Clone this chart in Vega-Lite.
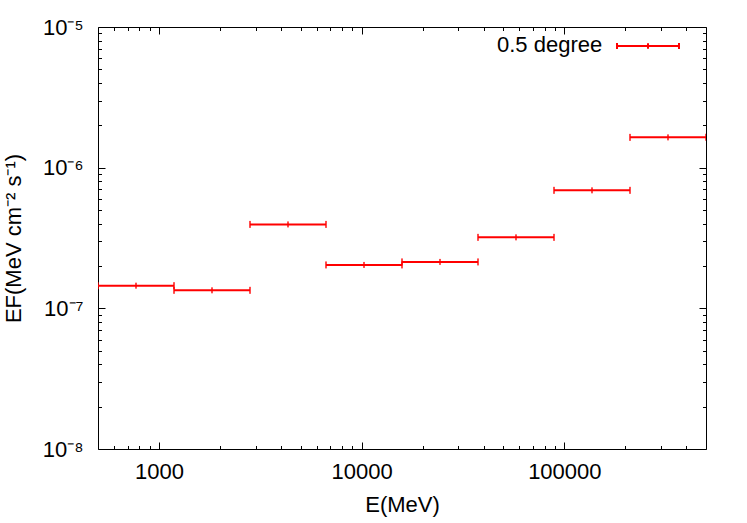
{
  "$schema": "https://vega.github.io/schema/vega-lite/v6.json",
  "width": 608,
  "height": 422,
  "autosize": {"type": "none"},
  "padding": {"left": 98, "top": 27, "right": 41, "bottom": 74},
  "background": "white",
  "config": {
    "view": {"stroke": "#000", "strokeWidth": 1},
    "axis": {
      "labelFont": "Liberation Sans",
      "labelFontSize": 22,
      "labelColor": "#000",
      "titleFont": "Liberation Sans",
      "titleFontSize": 22,
      "titleFontWeight": "normal",
      "titleColor": "#000",
      "tickColor": "#000",
      "tickWidth": 1,
      "domain": false,
      "grid": false
    }
  },
  "data": {
    "values": [
      {"e": 770, "lo": 500, "hi": 1186, "f": 1.449e-7, "series": "0.5 degree"},
      {"e": 1826, "lo": 1186, "hi": 2812, "f": 1.343e-7, "series": "0.5 degree"},
      {"e": 4330, "lo": 2812, "hi": 6669, "f": 3.95e-7, "series": "0.5 degree"},
      {"e": 10269, "lo": 6669, "hi": 15811, "f": 2.035e-7, "series": "0.5 degree"},
      {"e": 24349, "lo": 15811, "hi": 37494, "f": 2.138e-7, "series": "0.5 degree"},
      {"e": 57742, "lo": 37494, "hi": 88914, "f": 3.196e-7, "series": "0.5 degree"},
      {"e": 136930, "lo": 88914, "hi": 210848, "f": 6.9e-7, "series": "0.5 degree"},
      {"e": 324700, "lo": 210848, "hi": 500000, "f": 1.642e-6, "series": "0.5 degree"}
    ]
  },
  "resolve": {"axis": {"x": "independent", "y": "independent"}},
  "layer": [
    {
      "mark": {"type": "rule", "strokeWidth": 2, "clip": true},
      "encoding": {
        "x": {
          "field": "lo", "type": "quantitative",
          "scale": {"type": "log", "domain": [500, 500000], "nice": false},
          "axis": {"orient": "bottom", "values": [1000, 10000, 100000], "format": "d", "tickSize": -7, "labelPadding": 19, "title": "E(MeV)", "titlePadding": 12}
        },
        "x2": {"field": "hi"},
        "y": {
          "field": "f", "type": "quantitative",
          "scale": {"type": "log", "domain": [1e-8, 1e-5], "nice": false},
          "axis": {"orient": "left", "values": [1e-8, 1e-7, 1e-6, 1e-5], "labelExpr": "datum.value < 5e-8 ? '10⁻⁸' : datum.value < 5e-7 ? '10⁻⁷' : datum.value < 5e-6 ? '10⁻⁶' : '10⁻⁵'", "tickSize": -7, "labelPadding": 22, "title": "EF(MeV cm⁻² s⁻¹)", "titlePadding": 17}
        },
        "color": {
          "field": "series", "type": "nominal",
          "scale": {"range": ["#ff0000"]},
          "legend": {
            "orient": "none",
            "legendX": 399,
            "legendY": 10,
            "title": "0.5 degree",
            "titleOrient": "left",
            "titleFont": "Liberation Sans",
            "titleFontSize": 22,
            "titleFontWeight": "normal",
            "titleColor": "#000",
            "titlePadding": 36,
            "labelExpr": "''",
            "labelOffset": 0,
            "symbolType": "M-4,0H4M-4,-0.4V0.4M4,-0.4V0.4M0,-0.35V0.35",
            "symbolSize": 240,
            "symbolStrokeWidth": 2,
            "padding": 0
          }
        }
      }
    },
    {
      "mark": {"type": "tick", "orient": "vertical", "size": 7, "thickness": 2, "color": "#ff0000", "clip": true},
      "encoding": {
        "x": {"field": "lo", "type": "quantitative", "axis": {"orient": "bottom", "values": [600, 700, 800, 900, 2000, 3000, 4000, 5000, 6000, 7000, 8000, 9000, 20000, 30000, 40000, 50000, 60000, 70000, 80000, 90000, 200000, 300000, 400000], "labels": false, "tickSize": -3.5, "title": null}},
        "y": {"field": "f", "type": "quantitative", "axis": {"orient": "left", "values": [2e-8, 3e-8, 4e-8, 5e-8, 6e-8, 7e-8, 8e-8, 9e-8, 2e-7, 3e-7, 4e-7, 5e-7, 6e-7, 7e-7, 8e-7, 9e-7, 2e-6, 3e-6, 4e-6, 5e-6, 6e-6, 7e-6, 8e-6, 9e-6], "labels": false, "tickSize": -3.5, "title": null}}
      }
    },
    {
      "mark": {"type": "tick", "orient": "vertical", "size": 7, "thickness": 2, "color": "#ff0000", "clip": true},
      "encoding": {
        "x": {"field": "hi", "type": "quantitative", "axis": {"orient": "top", "values": [1000, 10000, 100000], "labels": false, "tickSize": -7, "title": null}},
        "y": {"field": "f", "type": "quantitative", "axis": {"orient": "right", "values": [1e-8, 1e-7, 1e-6, 1e-5], "labels": false, "tickSize": -7, "title": null}}
      }
    },
    {
      "mark": {"type": "tick", "orient": "vertical", "size": 6, "thickness": 2, "color": "#ff0000", "clip": true},
      "encoding": {
        "x": {"field": "e", "type": "quantitative", "axis": {"orient": "top", "values": [600, 700, 800, 900, 2000, 3000, 4000, 5000, 6000, 7000, 8000, 9000, 20000, 30000, 40000, 50000, 60000, 70000, 80000, 90000, 200000, 300000, 400000], "labels": false, "tickSize": -3.5, "title": null}},
        "y": {"field": "f", "type": "quantitative", "axis": {"orient": "right", "values": [2e-8, 3e-8, 4e-8, 5e-8, 6e-8, 7e-8, 8e-8, 9e-8, 2e-7, 3e-7, 4e-7, 5e-7, 6e-7, 7e-7, 8e-7, 9e-7, 2e-6, 3e-6, 4e-6, 5e-6, 6e-6, 7e-6, 8e-6, 9e-6], "labels": false, "tickSize": -3.5, "title": null}}
      }
    }
  ]
}
